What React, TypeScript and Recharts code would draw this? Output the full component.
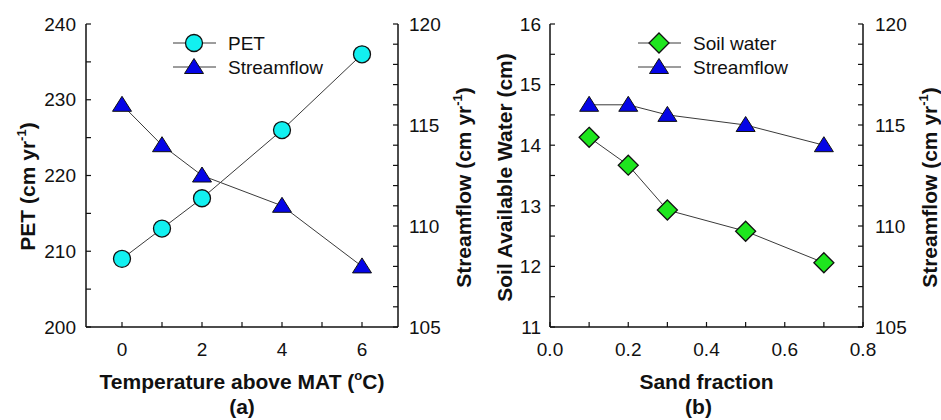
import React from 'react';
import { LineChart, Line, XAxis, YAxis, Legend } from 'recharts';

// ---------- data ----------
const tempAboveMAT = [0, 1, 2, 4, 6];
const petValues = [209, 213, 217, 226, 236];
const streamflowA = [116, 114, 112.5, 111, 108];

const sandFraction = [0.1, 0.2, 0.3, 0.5, 0.7];
const soilWater = [14.13, 13.67, 12.93, 12.58, 12.06];
const streamflowB = [116, 116, 115.5, 115, 114];

const tempTicks = [0, 1, 2, 3, 4, 5, 6];
const tempTickLabels = ['0', '', '2', '', '4', '', '6'];
const petTicks = [200, 205, 210, 215, 220, 225, 230, 235, 240];
const petTickLabels = ['200', '', '210', '', '220', '', '230', '', '240'];
const streamTicks = [105, 106, 107, 108, 109, 110, 111, 112, 113, 114, 115, 116, 117, 118, 119, 120];
const streamTickLabels = ['105', '', '', '', '', '110', '', '', '', '', '115', '', '', '', '', '120'];
const sandTicks = [0, 0.1, 0.2, 0.3, 0.4, 0.5, 0.6, 0.7, 0.8];
const sandTickLabels = ['0.0', '', '0.2', '', '0.4', '', '0.6', '', '0.8'];
const soilTicks = [11, 11.5, 12, 12.5, 13, 13.5, 14, 14.5, 15, 15.5, 16];
const soilTickLabels = ['11', '', '12', '', '13', '', '14', '', '15', '', '16'];

const legendA = [
  { name: 'PET', marker: 'circle' },
  { name: 'Streamflow', marker: 'triangle' },
];
const legendB = [
  { name: 'Soil water', marker: 'diamond' },
  { name: 'Streamflow', marker: 'triangle' },
];

const dataA = tempAboveMAT.map((x, i) => ({ x, pet: petValues[i], flow: streamflowA[i] }));
const dataB = sandFraction.map((x, i) => ({ x, soil: soilWater[i], flow: streamflowB[i] }));

// ---------- styles ----------
const FONT = '"Liberation Sans", Arial, Helvetica, sans-serif';
const INK = '#111111';
const LINE = '#3a3a3a';
const CYAN = '#12f0f0';
const BLUE = '#0505e6';
const GREEN = '#1ee61e';
const TICK_FS = 19;
const TITLE_FS = 21;

const axisLine = { stroke: INK, strokeWidth: 1.5 };
const tickLine = { stroke: INK, strokeWidth: 1.2 };
const tickStyle = { fill: INK, fontSize: TICK_FS, fontFamily: FONT };

type Part = { t: string; sup?: boolean };

function RichText({ x, y, parts, size, rotate, bold = true }: any) {
  const shift = size * 0.42;
  return (
    <text
      x={x}
      y={y}
      textAnchor="middle"
      fontFamily={FONT}
      fontWeight={bold ? 'bold' : 'normal'}
      fontSize={size}
      fill={INK}
      transform={rotate ? `rotate(-90 ${x} ${y})` : undefined}
    >
      {parts.map((p: Part, i: number) => {
        const prevSup = i > 0 && parts[i - 1].sup;
        if (p.sup) {
          return (
            <tspan key={i} fontSize={size * 0.62} dy={-shift}>
              {p.t}
            </tspan>
          );
        }
        return (
          <tspan key={i} dy={prevSup ? shift : 0}>
            {p.t}
          </tspan>
        );
      })}
    </text>
  );
}

function YTitle(props: any) {
  const vb = props.viewBox || { x: 0, y: 0, width: 0, height: 0 };
  const x = vb.x + props.bx;
  const y = vb.y + vb.height / 2 + props.cy;
  return <RichText x={x} y={y} parts={props.parts} size={TITLE_FS} rotate />;
}

function XTitle(props: any) {
  const vb = props.viewBox || { x: 0, y: 0, width: 0, height: 0 };
  const cx = vb.x + vb.width / 2;
  return (
    <g>
      <RichText x={cx} y={vb.y + 62} parts={props.parts} size={TITLE_FS} />
      <RichText x={cx + (props.subDx || 0)} y={vb.y + 87} parts={[{ t: props.sub }]} size={TITLE_FS} />
    </g>
  );
}

function Marker({ kind, cx, cy }: any) {
  if (kind === 'circle') {
    return <circle cx={cx} cy={cy} r={8.5} fill={CYAN} stroke={INK} strokeWidth={1.3} />;
  }
  if (kind === 'triangle') {
    return (
      <polygon
        points={`${cx},${cy - 8.5} ${cx + 9.5},${cy + 6.5} ${cx - 9.5},${cy + 6.5}`}
        fill={BLUE}
        stroke={INK}
        strokeWidth={1}
      />
    );
  }
  return (
    <polygon
      points={`${cx},${cy - 10} ${cx + 10},${cy} ${cx},${cy + 10} ${cx - 10},${cy}`}
      fill={GREEN}
      stroke={INK}
      strokeWidth={1.3}
    />
  );
}

const renderDot = (kind: string) => (props: any) => {
  const { cx, cy, index } = props;
  if (cx == null || cy == null) return <g key={`e-${kind}-${index}`} />;
  return <Marker key={`m-${kind}-${index}`} kind={kind} cx={cx} cy={cy} />;
};

const renderLegend = (items: { name: string; marker: string }[]) => () => (
  <svg width={240} height={52} style={{ display: 'block' }}>
    {items.map((it, i) => {
      const y = 13 + i * 24;
      return (
        <g key={it.name}>
          <line x1={3} x2={46} y1={y} y2={y} stroke={LINE} strokeWidth={1} />
          <Marker kind={it.marker} cx={24} cy={y} />
          <text x={58} y={y} dominantBaseline="central" fontFamily={FONT} fontSize={TICK_FS} fill={INK}>
            {it.name}
          </text>
        </g>
      );
    })}
  </svg>
);

const fmt = (labels: string[]) => (_v: any, i: number) => labels[i] ?? '';

const streamTitle: Part[] = [{ t: 'Streamflow (cm yr' }, { t: '-1', sup: true }, { t: ')' }];

function PanelA() {
  return (
    <LineChart width={480} height={420} data={dataA} margin={{ top: 24, right: 10, left: 0, bottom: 0 }}>
      <XAxis
        dataKey="x"
        type="number"
        domain={[-0.9, 6.9]}
        ticks={tempTicks}
        tickFormatter={fmt(tempTickLabels)}
        interval={0}
        height={93}
        tickSize={-5}
        tickMargin={21}
        axisLine={axisLine}
        tickLine={tickLine}
        tick={tickStyle}
        label={<XTitle parts={[{ t: 'Temperature above MAT (' }, { t: 'o', sup: true }, { t: 'C)' }]} sub="(a)" />}
      />
      <XAxis xAxisId="top" orientation="top" dataKey="x" type="number" domain={[-0.9, 6.9]} height={0} tick={false} tickLine={false} axisLine={axisLine} />
      <YAxis
        yAxisId="left"
        type="number"
        domain={[200, 240]}
        ticks={petTicks}
        tickFormatter={fmt(petTickLabels)}
        interval={0}
        width={86}
        tickSize={-5}
        tickMargin={15}
        axisLine={axisLine}
        tickLine={tickLine}
        tick={tickStyle}
        label={<YTitle bx={35} cy={11} parts={[{ t: 'PET (cm yr' }, { t: '-1', sup: true }, { t: ')' }]} />}
      />
      <YAxis
        yAxisId="right"
        orientation="right"
        type="number"
        domain={[105, 120]}
        ticks={streamTicks}
        tickFormatter={fmt(streamTickLabels)}
        interval={0}
        width={72}
        tickSize={-5}
        tickMargin={16}
        axisLine={axisLine}
        tickLine={tickLine}
        tick={tickStyle}
        label={<YTitle bx={73} cy={12} parts={streamTitle} />}
      />
      <Legend
        layout="vertical"
        align="center"
        verticalAlign="middle"
        content={renderLegend(legendA)}
        wrapperStyle={{ left: 170, top: 30, width: 240, height: 52 }}
      />
      <Line yAxisId="left" dataKey="pet" name="PET" stroke={LINE} strokeWidth={1} dot={renderDot('circle')} activeDot={false} isAnimationActive={false} />
      <Line yAxisId="right" dataKey="flow" name="Streamflow" stroke={LINE} strokeWidth={1} dot={renderDot('triangle')} activeDot={false} isAnimationActive={false} />
    </LineChart>
  );
}

function PanelB() {
  return (
    <LineChart width={471} height={420} data={dataB} margin={{ top: 24, right: 0, left: 0, bottom: 0 }}>
      <XAxis
        dataKey="x"
        type="number"
        domain={[0, 0.8]}
        ticks={sandTicks}
        tickFormatter={fmt(sandTickLabels)}
        interval={0}
        height={93}
        tickSize={-5}
        tickMargin={21}
        axisLine={axisLine}
        tickLine={tickLine}
        tick={tickStyle}
        label={<XTitle parts={[{ t: 'Sand fraction' }]} sub="(b)" subDx={-8} />}
      />
      <XAxis xAxisId="top" orientation="top" dataKey="x" type="number" domain={[0, 0.8]} height={0} tick={false} tickLine={false} axisLine={axisLine} />
      <YAxis
        yAxisId="left"
        type="number"
        domain={[11, 16]}
        ticks={soilTicks}
        tickFormatter={fmt(soilTickLabels)}
        interval={0}
        width={80}
        tickSize={-5}
        tickMargin={14}
        axisLine={axisLine}
        tickLine={tickLine}
        tick={tickStyle}
        label={<YTitle bx={42} cy={2} parts={[{ t: 'Soil Available Water (cm)' }]} />}
      />
      <YAxis
        yAxisId="right"
        orientation="right"
        type="number"
        domain={[105, 120]}
        ticks={streamTicks}
        tickFormatter={fmt(streamTickLabels)}
        interval={0}
        width={78}
        tickSize={-5}
        tickMargin={17}
        axisLine={axisLine}
        tickLine={tickLine}
        tick={tickStyle}
        label={<YTitle bx={74} cy={12} parts={streamTitle} />}
      />
      <Legend
        layout="vertical"
        align="center"
        verticalAlign="middle"
        content={renderLegend(legendB)}
        wrapperStyle={{ left: 165, top: 30, width: 240, height: 52 }}
      />
      <Line yAxisId="left" dataKey="soil" name="Soil water" stroke={LINE} strokeWidth={1} dot={renderDot('diamond')} activeDot={false} isAnimationActive={false} />
      <Line yAxisId="right" dataKey="flow" name="Streamflow" stroke={LINE} strokeWidth={1} dot={renderDot('triangle')} activeDot={false} isAnimationActive={false} />
    </LineChart>
  );
}

export default function App() {
  return (
    <div style={{ position: 'absolute', left: 0, top: 0, width: 941, height: 420, background: '#ffffff', overflow: 'hidden' }}>
      <div style={{ position: 'absolute', left: 0, top: 0 }}>
        <PanelA />
      </div>
      <div style={{ position: 'absolute', left: 470, top: 0 }}>
        <PanelB />
      </div>
    </div>
  );
}
